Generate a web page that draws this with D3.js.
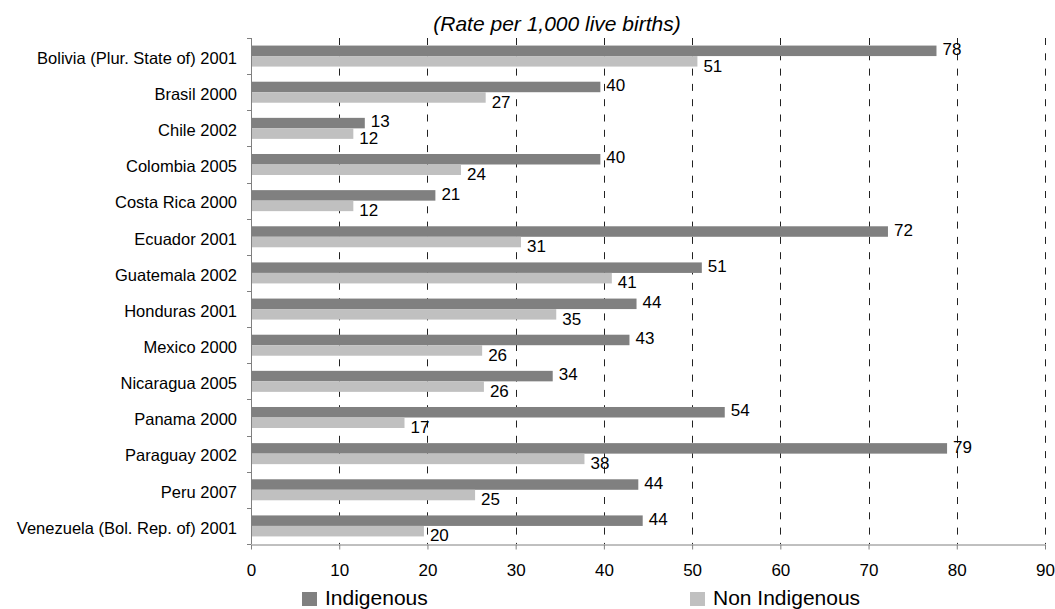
<!DOCTYPE html>
<html>
<head>
<meta charset="utf-8">
<title>Infant mortality - indigenous vs non indigenous</title>
<script src="https://cdnjs.cloudflare.com/ajax/libs/d3/7.8.5/d3.min.js"></script>
<style>
body {
  margin: 0;
  background: #ffffff;
}
svg text {
  font-family: "Liberation Sans", Arial, sans-serif;
  fill: #000;
}
.cat text { font-size: 16.5px; }
.xaxis text { font-size: 17px; }
.val { font-size: 17px; }
.legend text { font-size: 21px; }
.title { font-size: 21px; font-style: italic; }
</style>
</head>
<body>
<script>
// country / census year
var countries = [
  "Bolivia (Plur. State of) 2001", "Brasil 2000", "Chile 2002", "Colombia 2005",
  "Costa Rica 2000", "Ecuador 2001", "Guatemala 2002", "Honduras 2001",
  "Mexico 2000", "Nicaragua 2005", "Panama 2000", "Paraguay 2002",
  "Peru 2007", "Venezuela (Bol. Rep. of) 2001"
];
// rate per 1,000 live births
var indigenous    = [77.7, 39.6, 12.9, 39.6, 20.9, 72.2, 51.1, 43.7, 42.9, 34.2, 53.7, 78.9, 43.9, 44.4];
var nonIndigenous = [50.6, 26.6, 11.6, 23.8, 11.6, 30.6, 40.9, 34.6, 26.2, 26.4, 17.4, 37.8, 25.4, 19.6];
var seriesNames = ["Indigenous", "Non Indigenous"];
var seriesColors = ["#808080", "#c0c0c0"];
var xTicks = [0, 10, 20, 30, 40, 50, 60, 70, 80, 90];

var width = 1055, height = 609;
var plotLeft = 251, plotRight = 1045, plotTop = 38, plotBottom = 544;

var svg = d3.select("body").append("svg")
  .attr("width", width)
  .attr("height", height);

var x = d3.scaleLinear().domain([0, 90]).range([plotLeft, plotRight]);
var y = d3.scaleBand().domain(countries).range([plotTop, plotBottom]).padding(0);
var ySub = d3.scaleBand().domain(seriesNames).range([0, y.bandwidth()])
  .paddingInner(0).paddingOuter(0.72);

var rows = countries.map(function(c, i) {
  return {name: c, values: [indigenous[i], nonIndigenous[i]]};
});

// dashed vertical gridlines
svg.append("g").selectAll("line")
  .data(xTicks.filter(function(d) { return d > 0; }))
  .enter().append("line")
    .attr("x1", function(d) { return Math.round(x(d)) + 0.5; })
    .attr("x2", function(d) { return Math.round(x(d)) + 0.5; })
    .attr("y1", plotTop)
    .attr("y2", plotBottom)
    .attr("stroke", "#222")
    .attr("stroke-width", 1)
    .attr("stroke-dasharray", "7,8.3");

// bars
var groups = svg.append("g").selectAll("g")
  .data(rows)
  .enter().append("g")
    .attr("transform", function(d) { return "translate(0," + y(d.name) + ")"; });

groups.selectAll("rect")
  .data(function(d) { return d.values.map(function(v, k) { return {k: k, v: v}; }); })
  .enter().append("rect")
    .attr("x", x(0))
    .attr("y", function(d) { return ySub(seriesNames[d.k]); })
    .attr("width", function(d) { return x(d.v) - x(0); })
    .attr("height", ySub.bandwidth())
    .attr("fill", function(d) { return seriesColors[d.k]; });

var fmt = d3.format(".0f");
groups.selectAll("text")
  .data(function(d) { return d.values.map(function(v, k) { return {k: k, v: v}; }); })
  .enter().append("text")
    .attr("class", "val")
    .attr("x", function(d) { return x(d.v) + 6; })
    .attr("y", function(d) {
      var b = ySub(seriesNames[d.k]) + ySub.bandwidth();
      return d.k === 0 ? b - 1 : b + 5;
    })
    .text(function(d) { return fmt(d.v); });

// left category axis
var cat = svg.append("g").attr("class", "cat");
cat.append("line")
  .attr("x1", plotLeft + 0.5).attr("x2", plotLeft + 0.5)
  .attr("y1", plotTop).attr("y2", plotBottom)
  .attr("stroke", "#808080");
cat.selectAll("line.tk")
  .data(d3.range(countries.length + 1))
  .enter().append("line")
    .attr("class", "tk")
    .attr("x1", plotLeft - 4).attr("x2", plotLeft)
    .attr("y1", function(i) { return Math.round(plotTop + i * y.step()) + 0.5; })
    .attr("y2", function(i) { return Math.round(plotTop + i * y.step()) + 0.5; })
    .attr("stroke", "#808080");
cat.selectAll("text")
  .data(countries)
  .enter().append("text")
    .attr("x", plotLeft - 14)
    .attr("y", function(d) { return y(d) + y.bandwidth() / 2 + 2; })
    .attr("dy", "0.35em")
    .attr("text-anchor", "end")
    .text(function(d) { return d; });

// bottom value axis
var xAxis = svg.append("g")
  .attr("class", "xaxis")
  .attr("transform", "translate(0," + (plotBottom + 0.5) + ")")
  .call(d3.axisBottom(x).tickValues(xTicks).tickSize(5).tickPadding(14).tickSizeOuter(0));
xAxis.select(".domain").attr("stroke", "#808080");
xAxis.selectAll(".tick line").attr("stroke", "#808080");
xAxis.selectAll("text").attr("fill", "#000").style("font-family", "'Liberation Sans', Arial, sans-serif");

// title
svg.append("text")
  .attr("class", "title")
  .attr("x", 557)
  .attr("y", 31)
  .attr("text-anchor", "middle")
  .text("(Rate per 1,000 live births)");

// legend
var legendX = [302, 690];
var legend = svg.append("g").attr("class", "legend").selectAll("g")
  .data(seriesNames)
  .enter().append("g")
    .attr("transform", function(d, i) { return "translate(" + legendX[i] + ",0)"; });
legend.append("rect")
  .attr("x", 0).attr("y", 592)
  .attr("width", 15).attr("height", 14)
  .attr("fill", function(d, i) { return seriesColors[i]; });
legend.append("text")
  .attr("x", 23).attr("y", 605)
  .text(function(d) { return d; });
</script>
</body>
</html>
